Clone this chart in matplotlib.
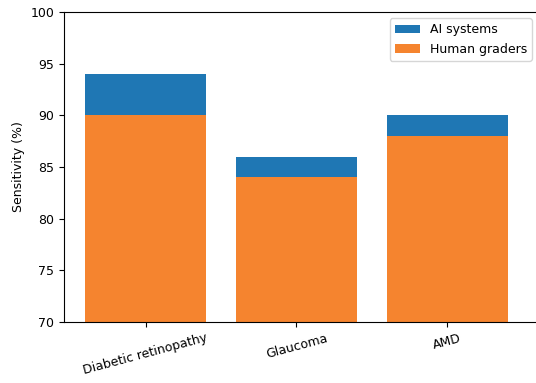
import matplotlib.pyplot as plt
import numpy as np

conditions = ['Diabetic retinopathy', 'Glaucoma', 'AMD']
ai_sens = [94, 86, 90]
human_sens = [90, 84, 88]

plt.rcParams['font.size'] = 9

fig = plt.figure(figsize=(5.36, 3.83), dpi=100)
ax = fig.add_axes([64/536, 1 - 322/383, (538 - 64)/536, (322 - 12)/383])

x = np.arange(len(conditions))
ax.bar(x, ai_sens, width=0.8, color='#1f77b4', label='AI systems')
ax.bar(x, human_sens, width=0.8, color='#f5842f', label='Human graders')

ax.set_ylim(70, 100)
ax.set_xlim(-0.54, 2.6)
ax.set_xticks(x)
ax.set_xticklabels(conditions, rotation=15)
ax.set_ylabel('Sensitivity (%)')
ax.legend(loc='upper right')

fig.savefig('out.png', dpi=100)
